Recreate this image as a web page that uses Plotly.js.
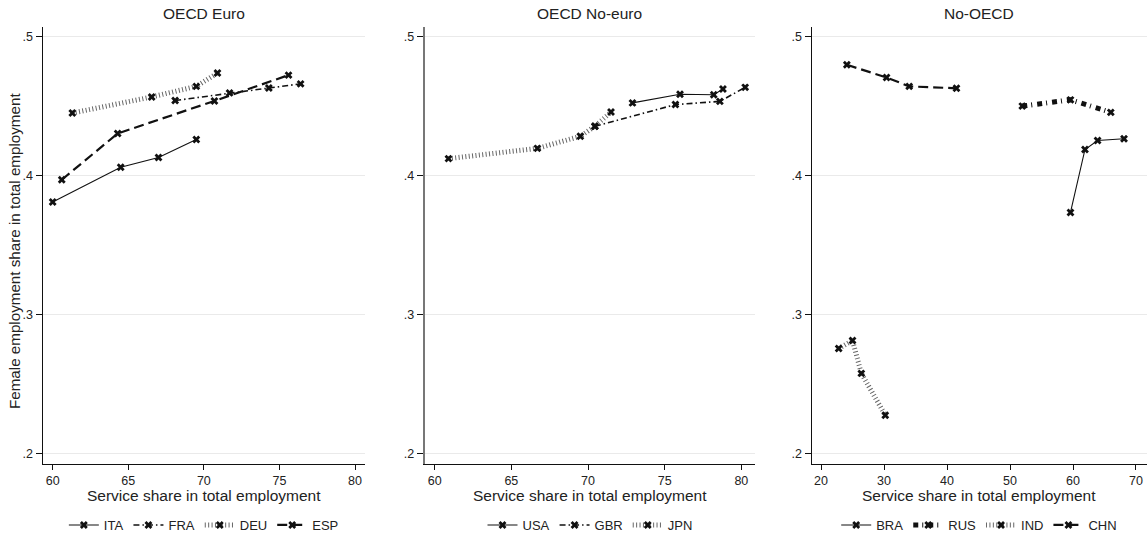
<!DOCTYPE html>
<html>
<head>
<meta charset="utf-8">
<script src="https://cdn.plot.ly/plotly-3.0.1.min.js"></script>
<style>
  html, body { margin: 0; padding: 0; background: #fff; }
  #chart { width: 1148px; height: 540px; }
  /* square ends so dashed strokes keep their hatch / block look */
  #chart .js-line, #chart .legendlines path { stroke-linecap: butt !important; }
</style>
</head>
<body>
<div id="chart"></div>
<script>
// Service share in total employment (x) vs female employment share (y)

// Panel 1: OECD Euro
const itaX = [60.0, 64.5, 67.0, 69.5];
const itaY = [0.381, 0.406, 0.413, 0.426];
const fraX = [68.1, 71.7, 74.3, 76.4];
const fraY = [0.454, 0.4595, 0.463, 0.466];
const deuX = [61.3, 66.55, 69.5, 70.9];
const deuY = [0.445, 0.4566, 0.4642, 0.4738];
const espX = [60.6, 64.3, 70.7, 75.6];
const espY = [0.397, 0.4303, 0.4537, 0.4723];

// Panel 2: OECD No-euro
const usaX = [72.9, 76.0, 78.2, 78.8];
const usaY = [0.4523, 0.4585, 0.4582, 0.4623];
const gbrX = [70.45, 75.7, 78.6, 80.25];
const gbrY = [0.4355, 0.4511, 0.4534, 0.4635];
const jpnX = [60.9, 66.7, 69.5, 70.45, 71.5];
const jpnY = [0.4122, 0.4196, 0.4283, 0.4355, 0.4457];

// Panel 3: No-OECD
const braX = [59.6, 61.9, 63.9, 68.1];
const braY = [0.3735, 0.4188, 0.4253, 0.4265];
const rusX = [51.95, 59.6, 66.0];
const rusY = [0.450, 0.4545, 0.4455];
const indX = [22.8, 25.0, 26.4, 30.2];
const indY = [0.2756, 0.2813, 0.2577, 0.2276];
const chnX = [24.1, 30.4, 34.0, 41.5];
const chnY = [0.4797, 0.4706, 0.4642, 0.4628];

const panelTitles = ['OECD Euro', 'OECD No-euro', 'No-OECD'];
const xTitle = 'Service share in total employment';
const yTitle = 'Female employment share in total employment';
const yTickVals = [0.2, 0.3, 0.4, 0.5];
const yTickText = ['.2', '.3', '.4', '.5'];
const xTicks1 = [60, 65, 70, 75, 80];
const xTicks3 = [20, 30, 40, 50, 60, 70];

const FONT = 'Liberation Sans, Arial, sans-serif';

// line styles
const STY = {
  solid:   {color: '#111', width: 1.1, dash: 'solid'},
  dashdot: {color: '#111', width: 1.6, dash: '6px,3px,1.5px,3px'},
  hatch:   {color: '#666', width: 5, dash: '1px,2.4px'},
  longdash:{color: '#111', width: 2.2, dash: '10px,5px'},
  heavy:   {color: '#111', width: 5, dash: '5px,4px,1px,5px'}
};

function series(name, x, y, style, ax, legend) {
  return {
    type: 'scatter', mode: 'lines+markers', name: name,
    x: x, y: y,
    xaxis: 'x' + (ax === 1 ? '' : ax), yaxis: 'y' + (ax === 1 ? '' : ax),
    legend: legend,
    line: Object.assign({}, style),
    marker: {symbol: 'x', size: 7, color: '#111', line: {width: 0}},
    hoverinfo: 'x+y+name'
  };
}

const data = [
  series('ITA', itaX, itaY, STY.solid, 1, 'legend'),
  series('FRA', fraX, fraY, STY.dashdot, 1, 'legend'),
  series('DEU', deuX, deuY, STY.hatch, 1, 'legend'),
  series('ESP', espX, espY, STY.longdash, 1, 'legend'),
  series('USA', usaX, usaY, STY.solid, 2, 'legend2'),
  series('GBR', gbrX, gbrY, STY.dashdot, 2, 'legend2'),
  series('JPN', jpnX, jpnY, STY.hatch, 2, 'legend2'),
  series('BRA', braX, braY, STY.solid, 3, 'legend3'),
  series('RUS', rusX, rusY, STY.heavy, 3, 'legend3'),
  series('IND', indX, indY, STY.hatch, 3, 'legend3'),
  series('CHN', chnX, chnY, STY.longdash, 3, 'legend3')
];

const W = 1148, H = 540;
const yDom = [(H - 465.3) / H, (H - 26.7) / H];
const xDoms = [
  [42.7 / W, 365 / W],
  [424.7 / W, 755.3 / W],
  [811.7 / W, 1146.7 / W]
];
const xRanges = [[59.34, 80.66], [59.35, 80.91], [18.52, 71.7]];

function xAxis(i, ticks) {
  return {
    domain: xDoms[i], range: xRanges[i], anchor: i === 0 ? 'y' : 'y' + (i + 1),
    tickvals: ticks, ticks: 'outside', ticklen: 5, tickwidth: 1, tickcolor: '#111',
    showline: true, linecolor: '#111', linewidth: 1.2, showgrid: false, zeroline: false,
    tickfont: {family: FONT, size: 12.5, color: '#222'}, fixedrange: true
  };
}
function yAxis(i, lineColor, lineWidth) {
  return {
    domain: yDom, range: [0.1928, 0.5072], anchor: i === 0 ? 'x' : 'x' + (i + 1),
    tickvals: yTickVals, ticktext: yTickText, ticks: 'outside', ticklen: 6, tickwidth: 1,
    tickcolor: '#111', showline: true, linecolor: lineColor, linewidth: lineWidth,
    showgrid: true, gridcolor: '#eaeaea', gridwidth: 1, zeroline: false,
    tickfont: {family: FONT, size: 12.5, color: '#222'}, fixedrange: true
  };
}
function legendAt(i) {
  return {
    orientation: 'h', x: (xDoms[i][0] + xDoms[i][1]) / 2, xanchor: 'center',
    y: (H - 527) / H, yanchor: 'middle', bgcolor: 'rgba(0,0,0,0)',
    font: {family: FONT, size: 13, color: '#222'}, itemwidth: 30, traceorder: 'normal'
  };
}

const annotations = [];
panelTitles.forEach((t, i) => {
  const cx = (xDoms[i][0] + xDoms[i][1]) / 2;
  annotations.push({text: t, xref: 'paper', yref: 'paper', x: cx, y: (H - 14) / H,
    xanchor: 'center', yanchor: 'middle', showarrow: false,
    font: {family: FONT, size: 15.5, color: '#222'}});
  annotations.push({text: xTitle, xref: 'paper', yref: 'paper', x: cx, y: (H - 497) / H,
    xanchor: 'center', yanchor: 'middle', showarrow: false,
    font: {family: FONT, size: 15.5, color: '#222'}});
});
annotations.push({text: yTitle, xref: 'paper', yref: 'paper', x: 14 / W, y: (H - 252) / H,
  xanchor: 'center', yanchor: 'middle', textangle: -90, showarrow: false,
  font: {family: FONT, size: 15.2, color: '#222'}});

const layout = {
  width: W, height: H,
  margin: {l: 0, r: 0, t: 0, b: 0},
  paper_bgcolor: '#fff', plot_bgcolor: '#fff',
  font: {family: FONT, color: '#222'},
  showlegend: true,
  xaxis: xAxis(0, xTicks1), xaxis2: xAxis(1, xTicks1), xaxis3: xAxis(2, xTicks3),
  yaxis: yAxis(0, '#111', 1.2), yaxis2: yAxis(1, '#777', 2), yaxis3: yAxis(2, '#111', 1.2),
  legend: legendAt(0), legend2: legendAt(1), legend3: legendAt(2),
  annotations: annotations
};

Plotly.newPlot('chart', data, layout, {displayModeBar: false, staticPlot: true});
</script>
</body>
</html>
